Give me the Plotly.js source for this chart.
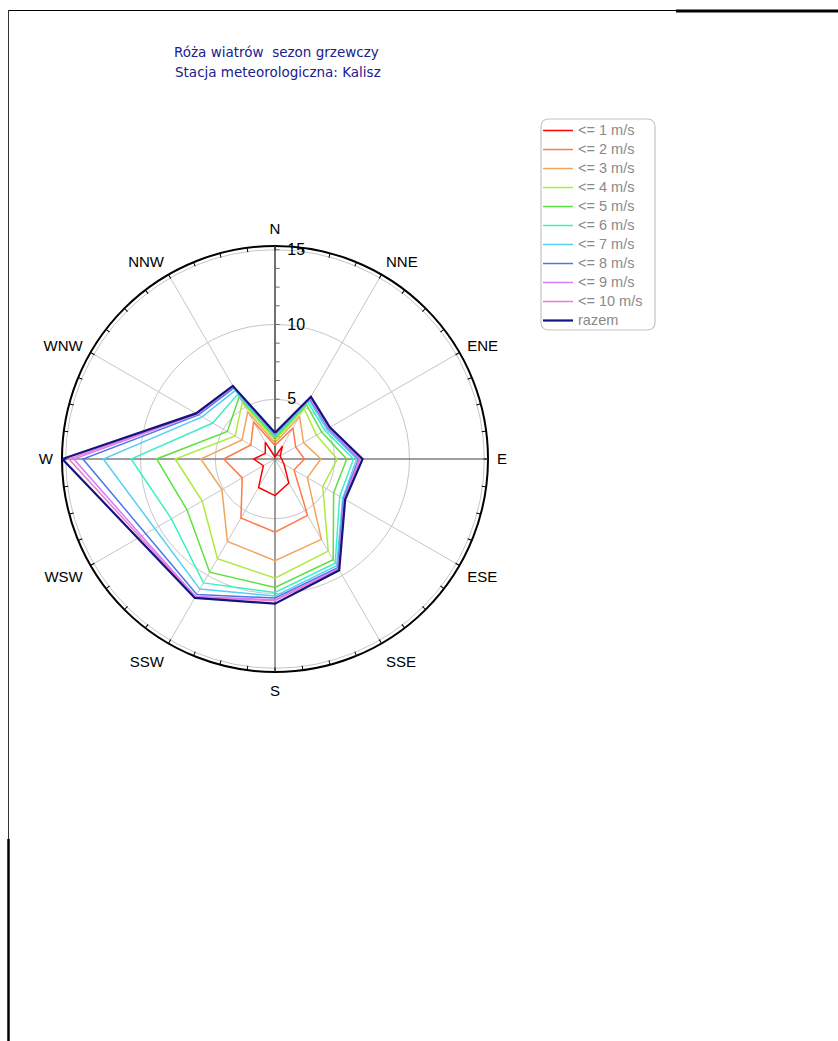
<!DOCTYPE html>
<html>
<head>
<meta charset="utf-8">
<script src="https://cdn.plot.ly/plotly-3.0.1.min.js"></script>
<style>
html,body{margin:0;padding:0;background:#fff;}
#chart{width:838px;height:1041px;}
</style>
</head>
<body>
<div id="chart"></div>
<script>
// ---- data ----
const directions = ['N','NNE','ENE','E','ESE','SSE','S','SSW','WSW','W','WNW','NNW'];
const seriesNames = ['<= 1 m/s','<= 2 m/s','<= 3 m/s','<= 4 m/s','<= 5 m/s','<= 6 m/s','<= 7 m/s','<= 8 m/s','<= 9 m/s','<= 10 m/s','razem'];
const le1  = [1.15, 2.0, 1.4, 1.44, 1.7, 2.85, 3.45, 3.2, 1.9, 2.42, 1.75, 2.3];
const le2  = [1.9, 3.4, 2.6, 2.97, 2.47, 5.35, 5.89, 5.56, 3.53, 4.43, 2.87, 3.87];
const le3  = [2.07, 4.3, 3.2, 4.07, 3.5, 7.21, 7.8, 7.37, 5.1, 5.97, 3.55, 4.65];
const le4  = [2.25, 4.9, 4.2, 5.16, 4.69, 8.12, 8.97, 8.7, 6.62, 7.68, 4.08, 5.38];
const le5  = [2.41, 5.2, 4.6, 5.8, 5.53, 8.78, 9.59, 9.74, 7.8, 8.92, 4.68, 5.79];
const le6  = [2.53, 5.4, 4.85, 6.25, 6.0, 9.05, 9.93, 10.57, 9.0, 10.63, 5.81, 6.0];
const le7  = [2.6, 5.55, 5.0, 6.47, 6.23, 9.25, 10.17, 11.05, 10.29, 12.49, 6.64, 6.3];
const le8  = [2.64, 5.65, 5.1, 6.6, 6.3, 9.4, 10.3, 11.46, 10.99, 13.85, 6.9, 6.5];
const le9  = [2.67, 5.7, 5.15, 6.66, 6.35, 9.48, 10.42, 11.62, 11.3, 14.46, 7.0, 6.58];
const le10 = [2.7, 5.75, 5.2, 6.7, 6.38, 9.53, 10.48, 11.68, 11.43, 14.79, 7.05, 6.62];
const razem = [2.75, 5.81, 5.24, 6.86, 6.42, 9.59, 10.68, 11.73, 11.59, 15.23, 7.1, 6.65];
const seriesValues = [le1, le2, le3, le4, le5, le6, le7, le8, le9, le10, razem];
const seriesColors = ['#ff0000','#ff7a45','#f2a55c','#aeea3c','#5ee040','#3ef0c4','#56cff2','#4a78e8','#d27cff','#f07ad0','#14147e'];
const radialLabelValues = [5, 10, 15];
const radialRange = [1, 15.25];
const titleLines = ['Róża wiatrów\u00a0 sezon grzewczy', 'Stacja meteorologiczna: Kalisz'];

// ---- geometry ----
const W = 838, H = 1041;
const cx = 275, cy = 459, R = 213;
const px = x => x / W;
const py = y => 1 - y / H;
const dom = {x: [px(cx - R), px(cx + R)], y: [py(cy + R), py(cy - R)]};

// ---- traces ----
const traces = [];
seriesValues.forEach((vals, i) => {
  traces.push({
    type: 'scatterpolar',
    subplot: 'polar4',
    mode: 'lines',
    name: '<span style="font-size:14.5px">' + seriesNames[i] + '</span>',
    r: vals.concat([vals[0]]),
    theta: directions.concat([directions[0]]),
    line: {color: seriesColors[i], width: i === 10 ? 2.2 : 1.5},
    hoverinfo: 'skip'
  });
});
['polar', 'polar2', 'polar3'].forEach(sp => {
  traces.unshift({type: 'scatterpolar', subplot: sp, mode: 'lines', r: [1], theta: [0],
    showlegend: false, hoverinfo: 'skip', line: {color: 'rgba(0,0,0,0)'}});
});

// ticks for the radial axis every 1.25
const radialTickVals = [];
for (let k = 1; k * 1.25 <= 15.001; k++) radialTickVals.push(k * 1.25);
const radialTickText = radialTickVals.map(v => radialLabelValues.includes(v) ? '\u00a0' + String(v) : '');
const angTick = [];
for (let a = 0; a < 360; a += 7.5) angTick.push(a);
const dirAngles = directions.map((d, i) => i * 30);

const labelFont = {family: 'Liberation Sans, Arial, sans-serif', size: 15, color: '#000'};

const layout = {
  width: W, height: H,
  margin: {l: 0, r: 0, t: 0, b: 0},
  paper_bgcolor: '#fff',
  showlegend: true,
  polar: {
    domain: dom, bgcolor: '#fff',
    angularaxis: {type: 'linear', rotation: 90, direction: 'clockwise', tickvals: dirAngles, ticktext: directions,
      showgrid: true, gridcolor: '#c6c6c6', gridwidth: 1, showline: true, linecolor: '#000', linewidth: 2,
      ticks: 'outside', ticklen: 5, tickcolor: 'rgba(0,0,0,0)', tickfont: labelFont},
    radialaxis: {range: radialRange, tickvals: radialLabelValues, showgrid: true, gridcolor: '#c6c6c6', gridwidth: 1,
      showticklabels: false, showline: false, ticks: ''}
  },
  polar2: {
    domain: dom, bgcolor: 'rgba(0,0,0,0)',
    angularaxis: {type: 'linear', rotation: 90, direction: 'clockwise', tickvals: [0, 90, 180, 270],
      showgrid: true, gridcolor: '#5a5a5a', gridwidth: 1.3, showline: false, ticks: '', showticklabels: false},
    radialaxis: {range: radialRange, angle: 90, side: 'clockwise', tickangle: 90, tickvals: radialTickVals, ticktext: radialTickText,
      showgrid: false, showline: true, linecolor: '#5a5a5a', linewidth: 1.3, ticks: 'outside', ticklen: 4,
      tickcolor: '#6a6a6a', tickfont: {family: 'Liberation Sans, Arial, sans-serif', size: 16, color: '#000'}}
  },
  polar3: {
    domain: dom, bgcolor: 'rgba(0,0,0,0)',
    angularaxis: {type: 'linear', rotation: 90, direction: 'clockwise', tickvals: angTick,
      showgrid: false, showline: false, ticks: 'inside', ticklen: 4, tickcolor: '#000', tickwidth: 1, showticklabels: false},
    radialaxis: {range: radialRange, visible: false}
  },
  polar4: {
    domain: dom, bgcolor: 'rgba(0,0,0,0)',
    angularaxis: {type: 'category', categoryarray: directions, rotation: 90, direction: 'clockwise', visible: false},
    radialaxis: {range: radialRange, visible: false}
  },
  legend: {
    x: px(538), y: py(116), xanchor: 'left', yanchor: 'top',
    bgcolor: 'rgba(0,0,0,0)', borderwidth: 0,
    font: {family: 'Liberation Sans, Arial, sans-serif', size: 12.2, color: '#8a8a8a'},
    itemwidth: 30, tracegroupgap: 0
  },
  annotations: [
    {text: titleLines[0], x: px(276), y: py(52), xref: 'paper', yref: 'paper', xanchor: 'center', yanchor: 'middle',
      showarrow: false, font: {family: 'DejaVu Sans, sans-serif', size: 13.5, color: '#20208e'}},
    {text: titleLines[1], x: px(278), y: py(72), xref: 'paper', yref: 'paper', xanchor: 'center', yanchor: 'middle',
      showarrow: false, font: {family: 'DejaVu Sans, sans-serif', size: 13.5, color: '#20208e'}}
  ],
  shapes: [
    {type: 'path', xref: 'paper', yref: 'paper', line: {color: '#c4c4c4', width: 1.2},
      path: `M ${px(549)},${py(119)} L ${px(647)},${py(119)} Q ${px(655)},${py(119)} ${px(655)},${py(127)} L ${px(655)},${py(322)} Q ${px(655)},${py(330)} ${px(647)},${py(330)} L ${px(549)},${py(330)} Q ${px(541)},${py(330)} ${px(541)},${py(322)} L ${px(541)},${py(127)} Q ${px(541)},${py(119)} ${px(549)},${py(119)} Z`},
    {type: 'line', xref: 'paper', yref: 'paper', x0: px(8), x1: px(676), y0: py(10.5), y1: py(10.5), line: {color: '#000', width: 1}},
    {type: 'line', xref: 'paper', yref: 'paper', x0: px(676), x1: px(838), y0: py(11), y1: py(11), line: {color: '#000', width: 3}},
    {type: 'line', xref: 'paper', yref: 'paper', x0: px(8.5), x1: px(8.5), y0: py(10), y1: py(839), line: {color: '#333', width: 1}},
    {type: 'line', xref: 'paper', yref: 'paper', x0: px(8.5), x1: px(8.5), y0: py(839), y1: py(1041), line: {color: '#000', width: 2.5}}
  ]
};

Plotly.newPlot('chart', traces, layout, {displayModeBar: false, responsive: false});
</script>
</body>
</html>
